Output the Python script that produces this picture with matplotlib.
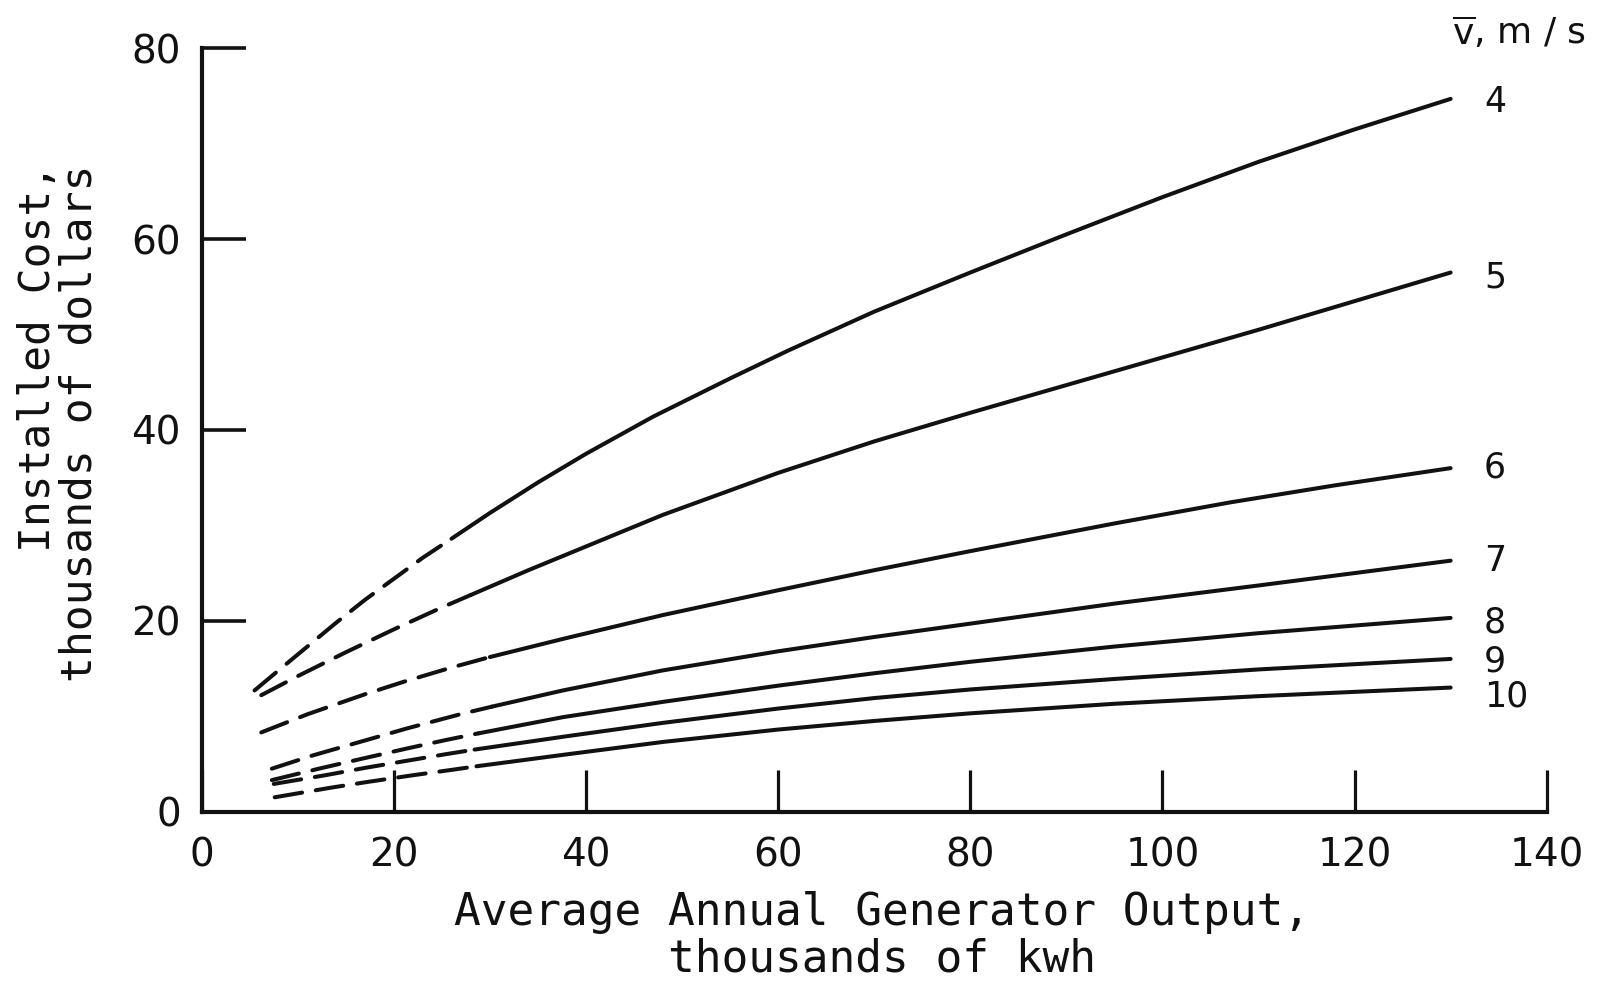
import matplotlib
matplotlib.use("Agg")
import matplotlib.pyplot as plt

plt.rcParams["font.family"] = ["DejaVu Sans"]
plt.rcParams["mathtext.fontset"] = "dejavusans"
plt.rcParams["lines.scale_dashes"] = False

# Mean wind speed of each curve, m/s
speeds = [4, 5, 6, 7, 8, 9, 10]

# Average annual generator output (thousands of kWh) and installed cost
# (thousands of dollars) along each curve
out_v4 = [5.5, 8, 11, 14, 17, 20, 23, 26, 30, 35, 40, 47, 55, 61, 70, 80, 90, 100, 110, 120, 130]
cost_v4 = [12.7, 14.8, 17.3, 19.8, 22.2, 24.4, 26.6, 28.6, 31.3, 34.5, 37.5, 41.4, 45.4, 48.3, 52.4, 56.5, 60.5, 64.4, 68.1, 71.5, 74.7]

out_v5 = [6.2, 10, 15, 20, 25, 28, 34, 41, 48, 60, 70, 80, 90, 100, 110, 120, 130]
cost_v5 = [12.2, 14.2, 16.7, 19.1, 21.4, 22.7, 25.3, 28.2, 31.1, 35.5, 38.8, 41.8, 44.7, 47.6, 50.5, 53.5, 56.5]

out_v6 = [6.2, 11, 17, 21, 26, 30, 37.6, 48, 60, 70, 80, 95, 107, 118, 130]
cost_v6 = [8.3, 10.2, 12.3, 13.6, 15.1, 16.2, 18.1, 20.6, 23.2, 25.3, 27.3, 30.2, 32.4, 34.2, 36.0]

out_v7 = [7.3, 11.6, 17.5, 21.3, 26.9, 30.2, 37.6, 48, 60, 70, 80, 95, 110, 120, 130]
cost_v7 = [4.5, 5.9, 7.6, 8.7, 10.2, 11.0, 12.7, 14.8, 16.8, 18.3, 19.7, 21.8, 23.7, 25.0, 26.3]

out_v8 = [7.3, 12.2, 16.5, 21.3, 25.4, 28.8, 37.6, 48, 60, 70, 80, 95, 110, 130]
cost_v8 = [3.3, 4.5, 5.5, 6.6, 7.5, 8.2, 9.9, 11.5, 13.2, 14.5, 15.7, 17.3, 18.7, 20.3]

out_v9 = [7.5, 12.8, 17.1, 20.6, 25.3, 28.4, 38, 48, 60, 70, 80, 95, 110, 130]
cost_v9 = [2.9, 3.8, 4.6, 5.2, 6.0, 6.5, 7.9, 9.3, 10.8, 11.9, 12.8, 13.9, 14.9, 16.0]

out_v10 = [7.6, 13.4, 17.2, 21.9, 26.2, 28.6, 38, 48, 60, 70, 80, 95, 110, 130]
cost_v10 = [1.5, 2.5, 3.1, 3.8, 4.4, 4.75, 6.0, 7.3, 8.6, 9.5, 10.3, 11.3, 12.1, 13.0]

# Output beyond which each curve is drawn solid (dashed below it)
solid_from = [26, 28, 30, 30.2, 28.8, 28.4, 28.6]

x_ticks = [0, 20, 40, 60, 80, 100, 120, 140]
y_ticks = [0, 20, 40, 60, 80]

curves = [
    (out_v4, cost_v4), (out_v5, cost_v5), (out_v6, cost_v6), (out_v7, cost_v7),
    (out_v8, cost_v8), (out_v9, cost_v9), (out_v10, cost_v10),
]

ink = "#111111"
lw = 2.9
label_font = ["DejaVu Sans Mono"]

fig = plt.figure(figsize=(15.97, 9.84), dpi=100)
fig.patch.set_facecolor("white")
ax = fig.add_axes([0.1263, 0.1752, 0.8422, 0.7757])

for (xs, ys), xs0 in zip(curves, solid_from):
    k = xs.index(xs0)
    ax.plot(xs[:k + 1], ys[:k + 1], color=ink, lw=lw, dashes=(20, 10),
            dash_capstyle="round", clip_on=False)
    ax.plot(xs[k:], ys[k:], color=ink, lw=lw, solid_capstyle="round",
            solid_joinstyle="round", clip_on=False)

# speed labels at the right-hand end of each curve
label_dy = [0, -1, 3, 2, -1, 1, -4]
for v, (xs, ys), dy in zip(speeds, curves, label_dy):
    ax.annotate(str(v), xy=(xs[-1], ys[-1]), xytext=(24, dy),
                textcoords="offset points", ha="left", va="center_baseline",
                fontsize=25, color=ink, annotation_clip=False)

ax.set_xlim(0, 140)
ax.set_ylim(0, 80)
ax.set_xticks(x_ticks)
ax.set_yticks(y_ticks)
ax.set_xticklabels([str(t) for t in x_ticks])
ax.set_yticklabels([str(t) for t in y_ticks])

for side in ("top", "right"):
    ax.spines[side].set_visible(False)
for side in ("left", "bottom"):
    ax.spines[side].set_linewidth(3.0)
    ax.spines[side].set_color(ink)
    ax.spines[side].set_capstyle("projecting")

ax.tick_params(axis="x", direction="in", length=30, width=2.3, color=ink,
               labelsize=28, pad=18, labelcolor=ink)
ax.tick_params(axis="y", direction="in", length=32, width=2.6, color=ink,
               labelsize=28, pad=15, labelcolor=ink)

fig.text(0.552, 0.013, "Average Annual Generator Output,\nthousands of kwh",
         ha="center", va="baseline", fontsize=32, linespacing=1.1,
         color=ink, family=label_font)
fig.text(0.063, 0.833, "Installed Cost,\nthousands of dollars", rotation=90,
         ha="right", va="top", multialignment="right", fontsize=31,
         linespacing=1.0, color=ink, family=label_font)
fig.text(0.909, 0.955, r"$\overline{\mathrm{v}}$, m / s", ha="left",
         va="baseline", fontsize=26, color=ink)

fig.savefig("out.png", dpi=100, facecolor="white")
